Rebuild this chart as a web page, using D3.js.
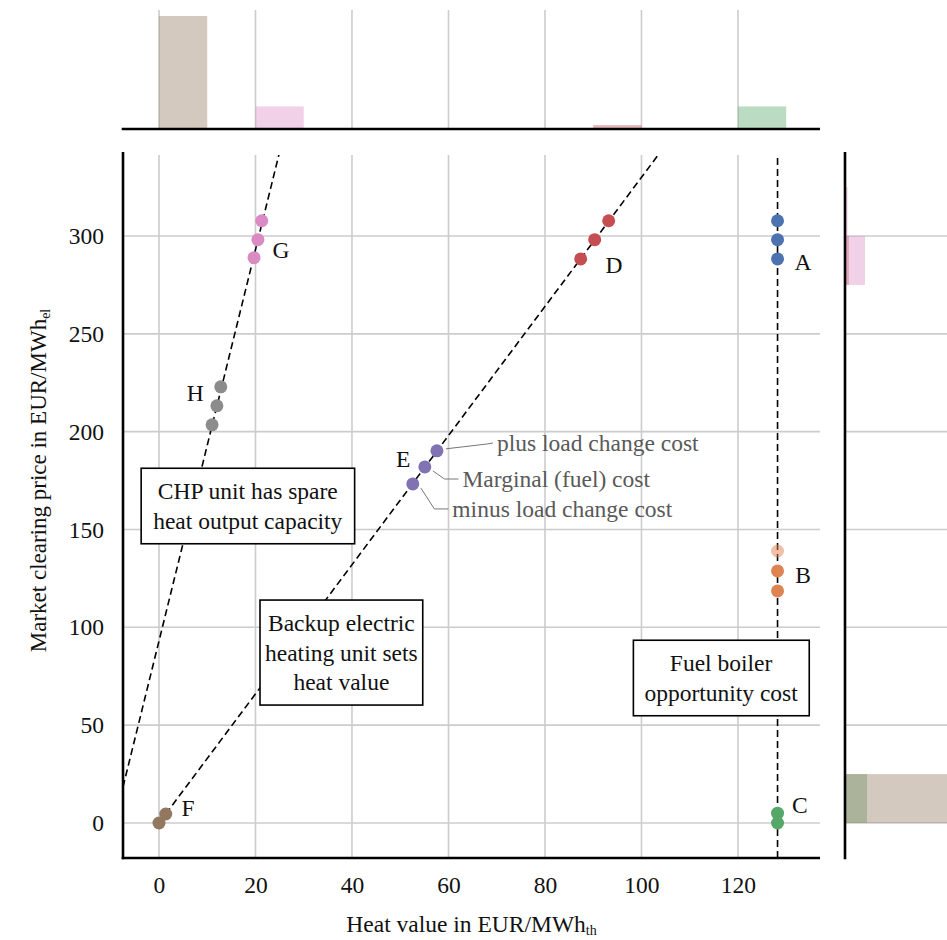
<!DOCTYPE html>
<html>
<head>
<meta charset="utf-8">
<script src="https://cdn.jsdelivr.net/npm/d3@7/dist/d3.min.js"></script>
<style>
  body { margin: 0; background: #fff; }
  svg { display: block; }
  text { font-family: "Liberation Serif", "Times New Roman", serif; }
</style>
</head>
<body>
<svg id="chart" width="947" height="940"></svg>
<script>
// ---- data ----
const xTicks = [0, 20, 40, 60, 80, 100, 120];
const yTicks = [0, 50, 100, 150, 200, 250, 300];

const seriesNames = ['A', 'B', 'C', 'D', 'E', 'F', 'G', 'H'];
const seriesColors = ['#4c72b0', '#dd8452', '#55a868', '#c44e52', '#8172b3', '#937860', '#da8bc3', '#8c8c8c'];

// [heat value, market price, opacity]
const ptsA = [[128.2, 288.3, 1], [128.2, 298.1, 1], [128.2, 307.8, 1]];
const ptsB = [[128.2, 118.6, 1], [128.2, 128.8, 1], [128.2, 139.0, 0.5]];
const ptsC = [[128.2, 0, 1], [128.2, 5, 1]];
const ptsD = [[87.4, 288.3, 1], [90.3, 298.1, 1], [93.2, 307.8, 1]];
const ptsE = [[52.6, 173.3, 1], [55.1, 182.0, 1], [57.6, 190.2, 1]];
const ptsF = [[0, 0, 1], [1.4, 4.6, 1]];
const ptsG = [[19.7, 288.9, 1], [20.5, 298.1, 1], [21.3, 307.8, 1]];
const ptsH = [[11.0, 203.5, 1], [12.0, 213.2, 1], [12.8, 222.9, 1]];
const allPts = [ptsA, ptsB, ptsC, ptsD, ptsE, ptsF, ptsG, ptsH];

// letter labels [series, heat, price]
const letterLabels = [['A', 133.5, 286.7], ['B', 133.5, 126.7], ['C', 132.8, 9.2], ['D', 94.3, 285.2],
                      ['E', 50.6, 186], ['F', 6.0, 7.7], ['G', 25.3, 293], ['H', 7.5, 219.8]];

// marginal histograms (relative weights)
const topBins = [[0, 10], [20, 30], [90, 100], [120, 130]];
const topSeries = ['F', 'G', 'D', 'C'];
const topWeights = [1.0, 0.2, 0.035, 0.2];
const rightBins = [[0, 25], [0, 25], [275, 300], [275, 300], [300, 325]];
const rightSeries = ['C', 'F', 'D', 'G', 'G'];
const rightWeights = [0.195, 1.0, 0.035, 0.177, 0.022];

// guide lines
const chpSlope = 10, chpIntercept = 93;
const backupSlope = 3.3;
const boilerHeat = 128.2;

// annotation boxes [lines, heat, price] (centre)
const boxLines = [
  [['CHP unit has spare', 'heat output capacity'], 18.4, 162],
  [['Backup electric', 'heating unit sets', 'heat value'], 37.8, 87.1],
  [['Fuel boiler', 'opportunity cost'], 116.5, 74.1]
];
const boxPadX = [12, 5, 11];
// E call-outs [text, heat of text start, price, index of E point]
const eNotes = [['plus load change cost', 70.05, 194.2, 2], ['Marginal (fuel) cost', 62.9, 175.8, 1], ['minus load change cost', 60.8, 160.5, 0]];

// ---- layout ----
const plot = { left: 123, right: 820, top: 155, bottom: 858 };
const fs = 23.5;
const svg = d3.select('#chart');

const x = d3.scaleLinear().domain([-7.46, 137]).range([plot.left, plot.right]);
const y = d3.scaleLinear().domain([-17.9, 341.4]).range([plot.bottom, plot.top]);
const hTop = d3.scaleLinear().domain([0, 1]).range([129, 16]);
const wRight = d3.scaleLinear().domain([0, 1]).range([845, 958]);
const color = d3.scaleOrdinal(seriesNames, seriesColors);

// grid lines
const grid = svg.append('g').attr('stroke', '#cccccc').attr('stroke-width', 1.6);
grid.selectAll('.gx').data(xTicks).enter().append('line')
  .attr('x1', d => x(d)).attr('x2', d => x(d)).attr('y1', plot.top).attr('y2', plot.bottom);
grid.selectAll('.gxt').data(xTicks).enter().append('line')
  .attr('x1', d => x(d)).attr('x2', d => x(d)).attr('y1', 10).attr('y2', 129);
grid.selectAll('.gy').data(yTicks).enter().append('line')
  .attr('x1', plot.left).attr('x2', plot.right).attr('y1', d => y(d)).attr('y2', d => y(d));
grid.selectAll('.gyr').data(yTicks).enter().append('line')
  .attr('x1', 845).attr('x2', 947).attr('y1', d => y(d)).attr('y2', d => y(d));

// top marginal bars
svg.append('g').selectAll('rect').data(topBins).enter().append('rect')
  .attr('x', d => x(d[0])).attr('width', d => x(d[1]) - x(d[0]))
  .attr('y', (d, i) => hTop(topWeights[i])).attr('height', (d, i) => hTop(0) - hTop(topWeights[i]))
  .attr('fill', (d, i) => color(topSeries[i])).attr('fill-opacity', 0.4);

// right marginal bars
svg.append('g').selectAll('rect').data(rightBins).enter().append('rect')
  .attr('y', d => y(d[1])).attr('height', d => y(d[0]) - y(d[1]))
  .attr('x', wRight(0)).attr('width', (d, i) => wRight(rightWeights[i]) - wRight(0))
  .attr('fill', (d, i) => color(rightSeries[i])).attr('fill-opacity', 0.4);

// dashed guide lines, clipped to plot
svg.append('clipPath').attr('id', 'plotclip').append('rect')
  .attr('x', plot.left).attr('y', plot.top).attr('width', plot.right - plot.left).attr('height', plot.bottom - plot.top);
const guides = svg.append('g').attr('clip-path', 'url(#plotclip)')
  .attr('stroke', '#000').attr('stroke-width', 1.6).attr('stroke-dasharray', '7,4').attr('fill', 'none');
const line = d3.line().x(d => x(d[0])).y(d => y(d[1]));
const xd = x.domain();
guides.append('path').attr('d', line([[xd[0], chpSlope * xd[0] + chpIntercept], [xd[1], chpSlope * xd[1] + chpIntercept]]));
guides.append('path').attr('d', line([[ptsF[1][0], ptsF[1][1]], [xd[1], backupSlope * xd[1]]]));
guides.append('path').attr('d', line([[boilerHeat, y.domain()[0]], [boilerHeat, y.domain()[1]]]));

// annotation boxes
boxLines.forEach(([lines, hx, py], bi) => {
  const g = svg.append('g');
  const rect = g.append('rect').attr('fill', '#fff').attr('stroke', '#000').attr('stroke-width', 1.6);
  const lh = 29.5;
  const t = g.append('text').attr('text-anchor', 'middle').attr('font-size', fs).attr('fill', '#111');
  lines.forEach((l, i) => {
    t.append('tspan').attr('x', x(hx)).attr('y', y(py) + (i - (lines.length - 1) / 2) * lh + 8).text(l);
  });
  const bb = t.node().getBBox();
  const px = boxPadX[bi];
  rect.attr('x', bb.x - px).attr('y', bb.y - 10).attr('width', bb.width + 2 * px).attr('height', bb.height + 20);
});

// E call-outs
const notes = svg.append('g');
eNotes.forEach(([txt, hx, py, idx]) => {
  const p = ptsE[idx];
  const px = x(p[0]), pyy = y(p[1]);
  const tx = x(hx), ty = y(py);
  const start = idx === 2 ? [px + 9, pyy - 2] : [px + 8, pyy + 4];
  const knee = idx === 2 ? [tx - 10, ty + 1] : [tx - 18, ty];
  notes.append('path')
    .attr('d', d3.line()([start, knee, [tx - 4, ty]]))
    .attr('fill', 'none').attr('stroke', '#777').attr('stroke-width', 1);
  notes.append('text').attr('x', tx).attr('y', ty).attr('dy', '0.35em')
    .attr('font-size', fs).attr('fill', '#595959').text(txt);
});

// points
allPts.forEach((pts, si) => {
  svg.append('g').selectAll('circle').data(pts).enter().append('circle')
    .attr('cx', d => x(d[0])).attr('cy', d => y(d[1])).attr('r', 6.5)
    .attr('fill', seriesColors[si]).attr('fill-opacity', d => d[2]);
});

// letter labels
svg.append('g').selectAll('text').data(letterLabels).enter().append('text')
  .attr('x', d => x(d[1])).attr('y', d => y(d[2])).attr('dy', '0.35em')
  .attr('text-anchor', 'middle').attr('font-size', fs).attr('fill', '#111').text(d => d[0]);

// axes (labels only)
const xAxis = svg.append('g').attr('transform', `translate(0,${plot.bottom})`)
  .call(d3.axisBottom(x).tickValues(xTicks).tickSize(0).tickPadding(18));
const yAxis = svg.append('g').attr('transform', `translate(${plot.left},0)`)
  .call(d3.axisLeft(y).tickValues(yTicks).tickSize(0).tickPadding(19));
[xAxis, yAxis].forEach(a => {
  a.select('.domain').remove();
  a.selectAll('text').attr('font-size', fs).attr('fill', '#111')
    .attr('font-family', '"Liberation Serif", "Times New Roman", serif');
});

// spines
const spines = svg.append('g').attr('stroke', '#000').attr('stroke-width', 2.6);
spines.append('line').attr('x1', plot.left).attr('x2', plot.left).attr('y1', 152).attr('y2', plot.bottom + 1.3);
spines.append('line').attr('x1', plot.left - 1.3).attr('x2', plot.right).attr('y1', plot.bottom).attr('y2', plot.bottom);
spines.append('line').attr('x1', plot.left - 1.3).attr('x2', plot.right).attr('y1', 129).attr('y2', 129);
spines.append('line').attr('x1', 845).attr('x2', 845).attr('y1', 152).attr('y2', plot.bottom + 1.3);

// axis titles
const xt = svg.append('text').attr('x', (plot.left + plot.right) / 2).attr('y', 932)
  .attr('text-anchor', 'middle').attr('font-size', fs).attr('fill', '#111');
xt.append('tspan').text('Heat value in EUR/MWh');
xt.append('tspan').attr('font-size', 14).attr('dy', 3).text('th');

const yt = svg.append('text').attr('transform', `translate(46,${(plot.top + plot.bottom) / 2 - 26}) rotate(-90)`)
  .attr('text-anchor', 'middle').attr('font-size', 23).attr('fill', '#111');
yt.append('tspan').text('Market clearing price in EUR/MWh');
yt.append('tspan').attr('font-size', 14).attr('dy', 4).text('el');
</script>
</body>
</html>
